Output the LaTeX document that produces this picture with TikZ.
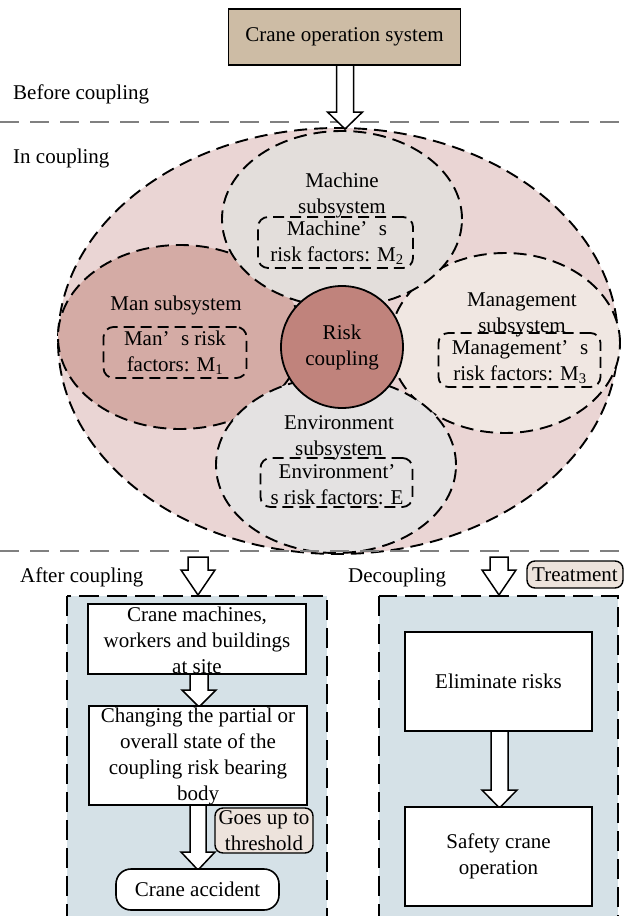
\documentclass[tikz,border=0pt]{standalone}
\usepackage{fontspec}
\setmainfont{Liberation Serif}
\usetikzlibrary{shapes.geometric}
\definecolor{tanbox}{RGB}{205,188,165}
\definecolor{bigpink}{RGB}{234,213,212}
\definecolor{manc}{RGB}{212,171,165}
\definecolor{machc}{RGB}{227,222,219}
\definecolor{mgmtc}{RGB}{240,231,226}
\definecolor{envc}{RGB}{228,226,226}
\definecolor{riskc}{RGB}{192,131,124}
\definecolor{panelc}{RGB}{213,225,231}
\definecolor{notec}{RGB}{237,227,220}
\definecolor{sepc}{RGB}{128,128,128}
\newcommand\blockarrow[6]{%
  \draw[barrow] ({#1-#5},#2) -- ({#1-#5},#3) -- ({#1-#6},#3) -- (#1,#4) -- ({#1+#6},#3) -- ({#1+#5},#3) -- ({#1+#5},#2) -- cycle;}
\newcommand\apos{’\hspace{0.55em}}
\begin{document}
\begin{tikzpicture}[x=1pt,y=-1pt,
  font=\fontsize{21}{26}\selectfont,
  txt/.style={inner sep=0pt, align=center},
  sub/.style={ellipse, draw=black, line width=1.9pt, dash pattern=on 13pt off 7pt, inner sep=0pt},
  inbox/.style={draw=black, line width=1.8pt, dash pattern=on 11pt off 6pt, rounded corners=10pt, inner sep=0pt},
  plainbox/.style={draw=black, line width=1.6pt, fill=white, inner sep=0pt},
  note/.style={draw=black, line width=1.4pt, fill=notec, rounded corners=8pt, inner sep=0pt},
  panel/.style={draw=black, line width=1.8pt, dash pattern=on 20pt off 8pt, fill=panelc},
  sep/.style={draw=sepc, line width=1.6pt, dash pattern=on 19pt off 11pt},
  barrow/.style={draw=black, fill=white, line width=1.5pt, line join=miter}]
\clip (0,0) rectangle (624,916);
\useasboundingbox (0,0) rectangle (624,916);
\fill[white] (0,0) rectangle (624,916);

% top
\node[draw=black, line width=1.6pt, fill=tanbox, minimum width=232, minimum height=56, inner sep=0pt] (top) at (344.5,37) {Crane operation system};
\node[txt, anchor=west] (before) at (13,94) {Before coupling};
\draw[sep] (0,122) -- (624,122);
\node[txt, anchor=west] (incoup) at (13,158) {In coupling};

% coupling ellipses
\node[sub, fill=bigpink, minimum width=560, minimum height=426] (big) at (338,341) {};
\node[sub, fill=manc, minimum width=244, minimum height=184] (man) at (180,337) {};
\node[sub, fill=mgmtc, minimum width=230, minimum height=180] (mgmt) at (505,343) {};
\node[sub, fill=machc, minimum width=240, minimum height=176] (mach) at (342,219) {};
\node[sub, fill=envc, minimum width=240, minimum height=176] (env) at (336,465) {};
\node[circle, draw=black, line width=1.8pt, fill=riskc, minimum size=122, inner sep=0pt] (risk) at (342,347) {};
\node[txt] at (risk) {Risk\\coupling};

\blockarrow{345}{65}{112}{129}{8.5}{17.5}

% machine
\node[txt] (machl) at (342,195) {Machine\\subsystem};
\node[inbox, minimum width=155, minimum height=51] (machb) at (335.5,242.5) {};
\node[txt] at (337,242.5) {Machine\apos s\\risk factors: M\textsubscript{2}};
% man
\node[txt] (manl) at (176,305) {Man subsystem};
\node[inbox, minimum width=143, minimum height=51] (manb) at (175,352.5) {};
\node[txt] at (175,352.5) {Man\apos s risk\\factors: M\textsubscript{1}};
% management
\node[txt] (mgmtl) at (522,314.5) {Management\\subsystem};
\node[inbox, minimum width=162, minimum height=54] (mgmtb) at (519.5,360) {};
\node[txt] at (520,362.5) {Management\apos s\\risk factors: M\textsubscript{3}};
% environment
\node[txt] (envl) at (339,437.5) {Environment\\subsystem};
\node[inbox, minimum width=152, minimum height=49] (envb) at (336.5,482.5) {};
\node[txt] at (337,484.5) {Environment’\\s risk factors: E};

\draw[sep] (0,551) -- (624,551);

% after coupling
\node[txt, anchor=west] (after) at (20,577) {After coupling};
\draw[panel] (67,596) rectangle (327,940);
\blockarrow{198}{557}{570}{595}{10}{17}
\node[plainbox, minimum width=218, minimum height=70] (b1) at (197,639) {};
\node[txt] at (197,640) {Crane machines,\\workers and buildings\\at site};
\blockarrow{199}{674}{690}{707}{9}{17}
\node[plainbox, minimum width=218, minimum height=99] (b2) at (198,755.5) {};
\node[txt] at (198,756) {Changing the partial or\\overall state of the\\coupling risk bearing\\body};
\blockarrow{198}{805}{852}{870}{8}{17}
\node[note, minimum width=98, minimum height=45] (goes) at (264,830.5) {};
\node[txt] at (264,830.5) {Goes up to\\threshold};
\node[plainbox, rounded corners=15pt, minimum width=163, minimum height=41] (acc) at (197.5,889.5) {Crane accident};

% decoupling
\node[txt, anchor=west] (dec) at (348,577) {Decoupling};
\draw[panel] (379,596) rectangle (618,940);
\blockarrow{499}{557}{570}{595}{9}{17}
\node[note, minimum width=96, minimum height=27] (treat) at (575,574.5) {Treatment};
\node[plainbox, minimum width=187, minimum height=99] (elim) at (498.5,681.5) {Eliminate risks};
\blockarrow{499.5}{731}{790}{808}{8.5}{17.5}
\node[plainbox, minimum width=187, minimum height=99] (safe) at (498.5,856.5) {};
\node[txt] at (safe) {Safety crane\\operation};
\end{tikzpicture}
\end{document}
